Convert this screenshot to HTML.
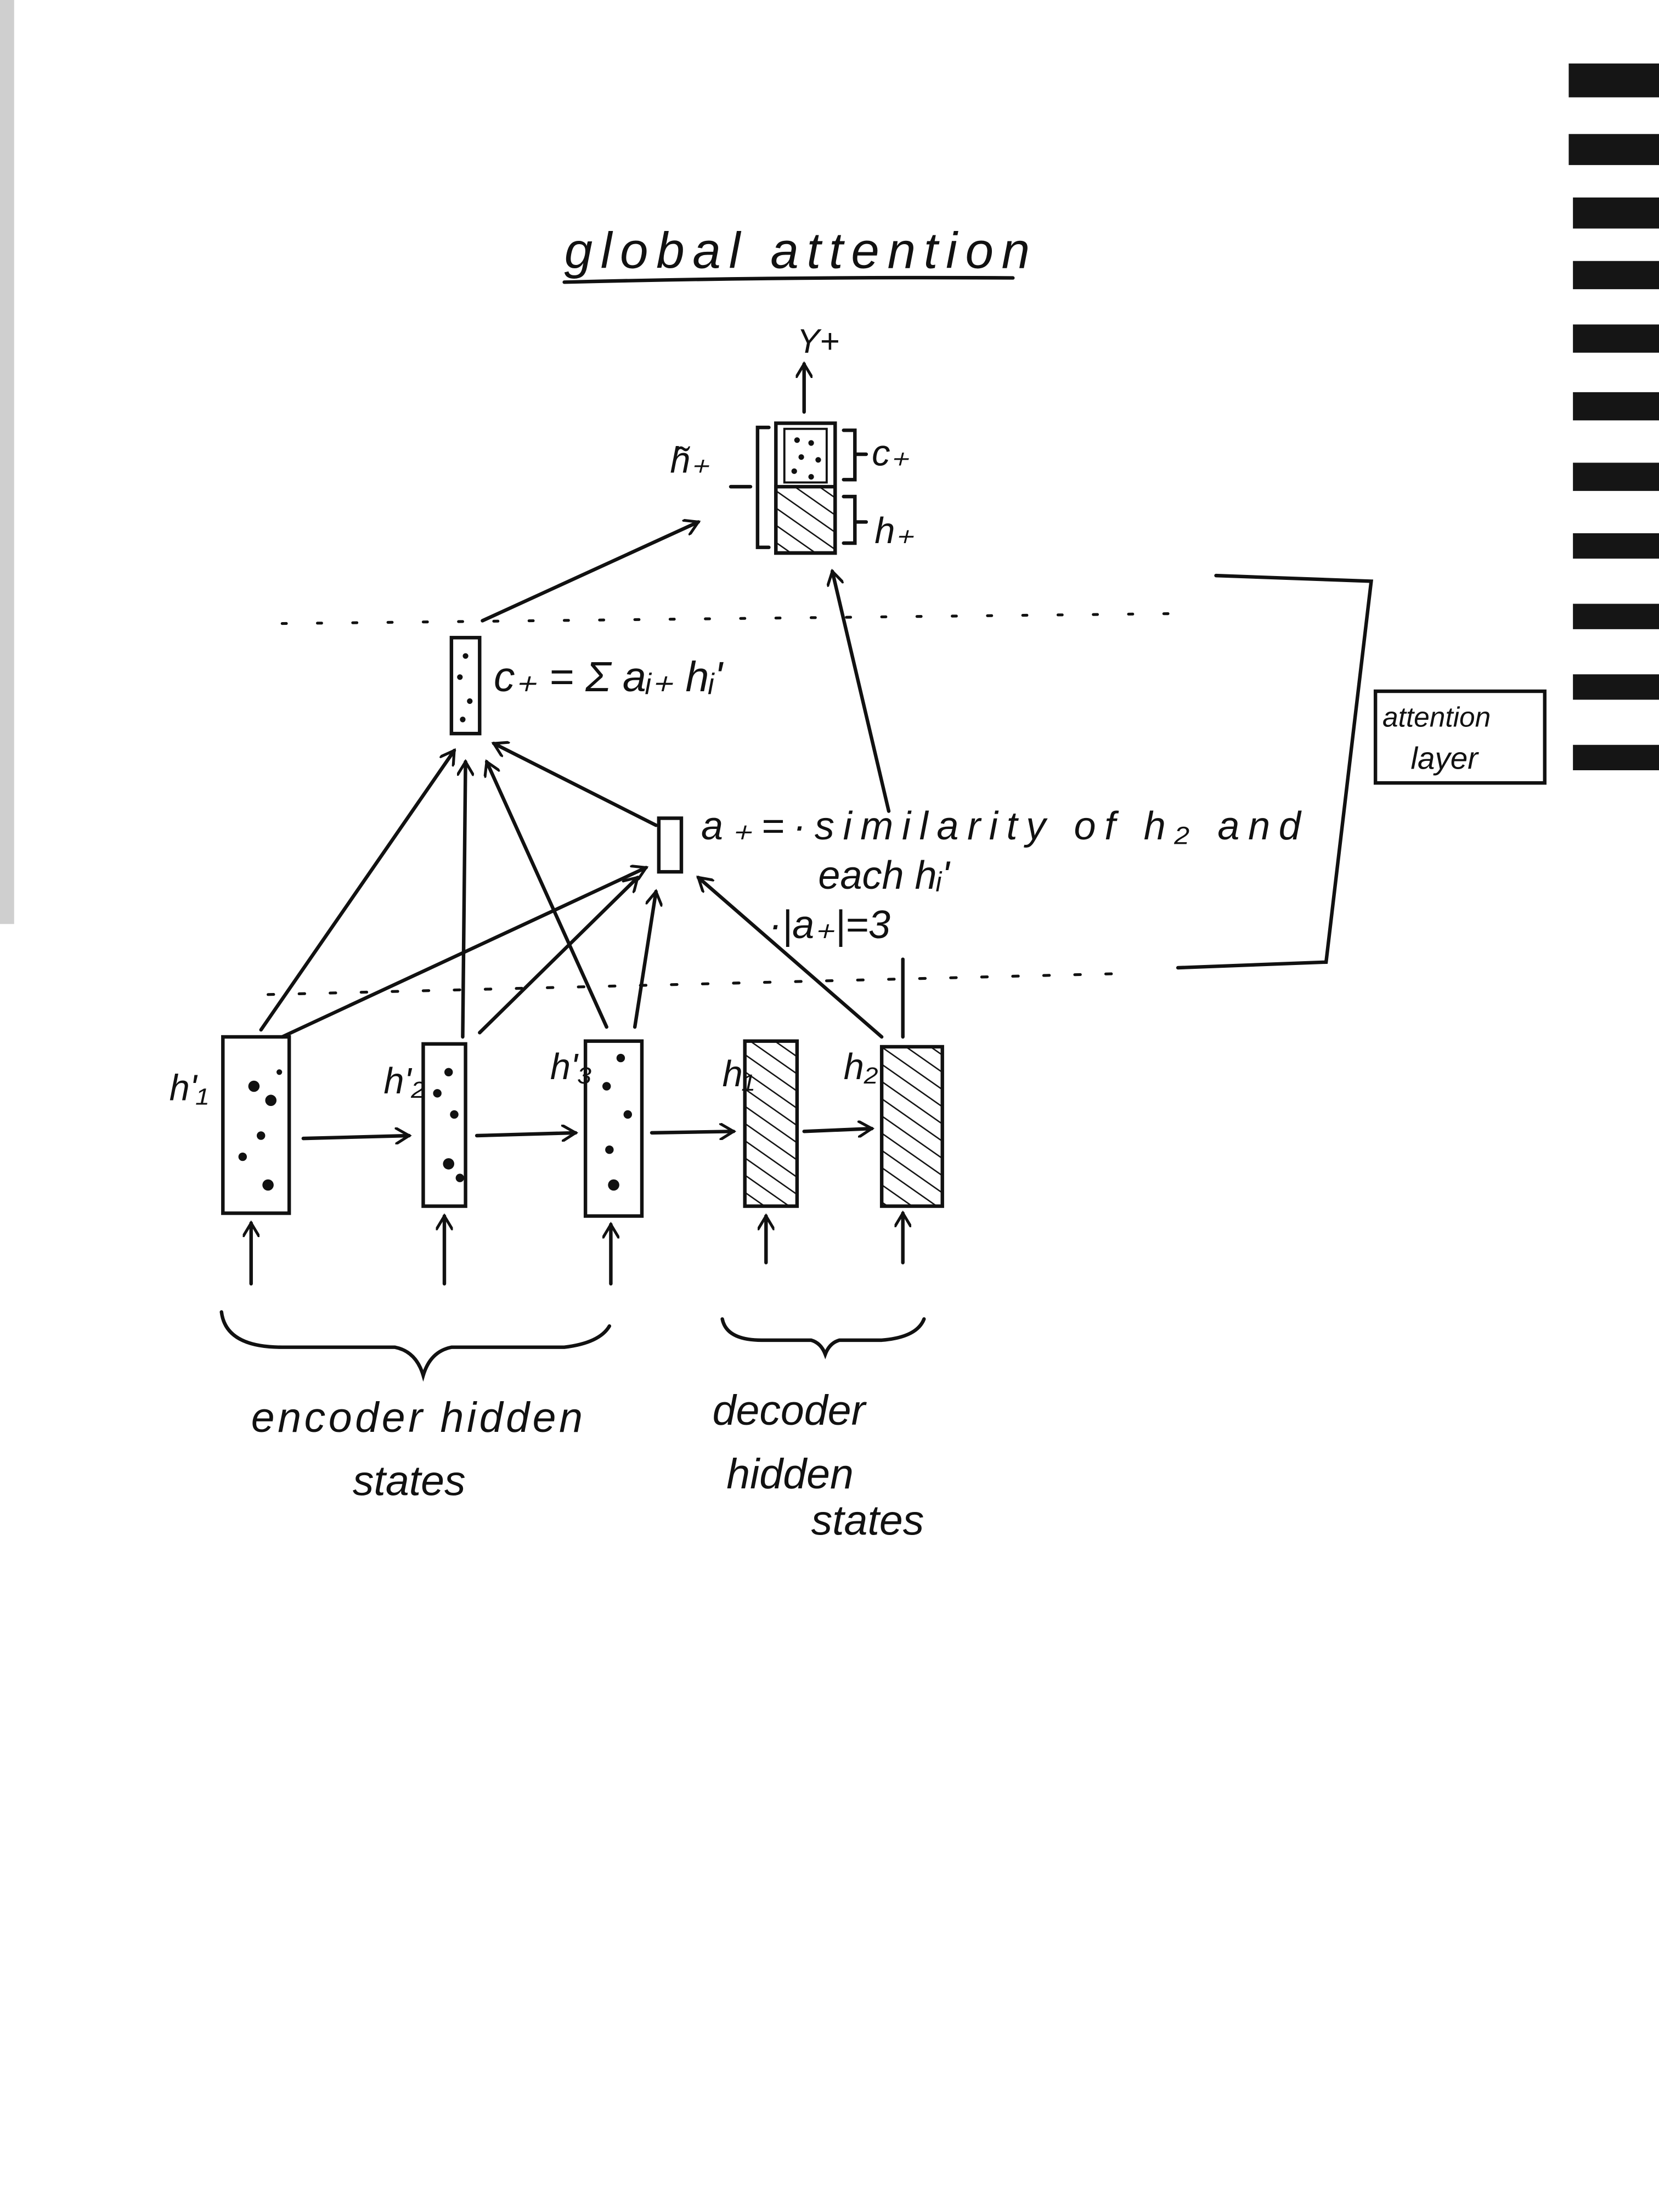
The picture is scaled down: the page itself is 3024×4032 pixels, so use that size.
<!DOCTYPE html>
<html><head><meta charset="utf-8">
<style>
html,body{margin:0;padding:0;background:#fff;}
svg{display:block;}
text{font-family:"Liberation Sans",sans-serif;font-style:italic;fill:#111;}
</style></head>
<body>
<svg width="3024" height="4032" viewBox="0 0 1176 1568" xmlns="http://www.w3.org/2000/svg">
<defs>
<pattern id="hatch" width="10" height="10" patternUnits="userSpaceOnUse" patternTransform="rotate(-55)">
<line x1="0" y1="0" x2="0" y2="10" stroke="#111" stroke-width="2"/></pattern>
<marker id="ah" markerWidth="12" markerHeight="12" refX="10" refY="6" orient="auto" markerUnits="userSpaceOnUse">
<path d="M0,0 L10,6 L0,12" fill="none" stroke="#111" stroke-width="2"/></marker>
</defs>
<rect width="1176" height="1568" fill="#fff"/>
<rect x="0" y="0" width="10" height="655" fill="#cfcfcf"/>
<g fill="#151515">
<rect x="1112" y="45" width="64" height="24"/><rect x="1112" y="95" width="64" height="22"/>
<rect x="1115" y="140" width="61" height="22"/><rect x="1115" y="185" width="61" height="20"/>
<rect x="1115" y="230" width="61" height="20"/><rect x="1115" y="278" width="61" height="20"/>
<rect x="1115" y="328" width="61" height="20"/><rect x="1115" y="378" width="61" height="18"/>
<rect x="1115" y="428" width="61" height="18"/><rect x="1115" y="478" width="61" height="18"/>
<rect x="1115" y="528" width="61" height="18"/>
</g>
<g stroke="#111" stroke-width="2.5" fill="none" stroke-linecap="round">
<!-- title underline -->
<path d="M400,200 Q560,196 718,197"/>
<!-- y_t arrow -->
<line x1="570" y1="292" x2="570" y2="258" marker-end="url(#ah)"/>
<!-- h tilde box -->
<rect x="550" y="300" width="42" height="92"/>
<rect x="550" y="345" width="42" height="47" fill="url(#hatch)"/>
<rect x="556" y="304" width="30" height="38" stroke-width="1.5"/>
<path d="M545,303 L537,303 L537,388 L545,388"/>
<path d="M598,305 L606,305 L606,340 L598,340 M606,322 L614,322"/>
<path d="M598,352 L606,352 L606,385 L598,385 M606,370 L614,370"/>
<line x1="518" y1="345" x2="532" y2="345"/>
<!-- dotted layer lines -->
<line x1="200" y1="442" x2="830" y2="435" stroke-dasharray="3 22" stroke-width="2"/>
<line x1="190" y1="705" x2="800" y2="690" stroke-dasharray="4 18" stroke-width="2"/>
<!-- attention layer bracket -->
<path d="M862,408 L972,412 L940,682 L835,686"/>
<rect x="975" y="490" width="120" height="65"/>
<!-- c_t box -->
<rect x="320" y="452" width="20" height="68"/>
<line x1="342" y1="440" x2="495" y2="370" marker-end="url(#ah)"/>
<line x1="630" y1="575" x2="590" y2="405" marker-end="url(#ah)"/>
<!-- a_t box -->
<rect x="467" y="580" width="16" height="38"/>
<line x1="465" y1="585" x2="350" y2="527" marker-end="url(#ah)"/>
<!-- encoder boxes -->
<rect x="158" y="735" width="47" height="125"/>
<rect x="300" y="740" width="30" height="115"/>
<rect x="415" y="738" width="40" height="124"/>
<rect x="528" y="738" width="37" height="117" fill="url(#hatch)"/>
<rect x="625" y="742" width="43" height="113" fill="url(#hatch)"/>
<!-- horizontal arrows -->
<line x1="215" y1="807" x2="290" y2="805" marker-end="url(#ah)"/>
<line x1="338" y1="805" x2="408" y2="803" marker-end="url(#ah)"/>
<line x1="462" y1="803" x2="520" y2="802" marker-end="url(#ah)"/>
<line x1="570" y1="802" x2="618" y2="800" marker-end="url(#ah)"/>
<!-- up arrows below -->
<line x1="178" y1="910" x2="178" y2="867" marker-end="url(#ah)"/>
<line x1="315" y1="910" x2="315" y2="862" marker-end="url(#ah)"/>
<line x1="433" y1="910" x2="433" y2="868" marker-end="url(#ah)"/>
<line x1="543" y1="895" x2="543" y2="862" marker-end="url(#ah)"/>
<line x1="640" y1="895" x2="640" y2="860" marker-end="url(#ah)"/>
<!-- lines to c_t and a_t -->
<line x1="185" y1="730" x2="322" y2="532" marker-end="url(#ah)"/>
<line x1="200" y1="735" x2="458" y2="615" marker-end="url(#ah)"/>
<line x1="328" y1="735" x2="330" y2="540" marker-end="url(#ah)"/>
<line x1="340" y1="732" x2="452" y2="622" marker-end="url(#ah)"/>
<line x1="430" y1="728" x2="345" y2="540" marker-end="url(#ah)"/>
<line x1="450" y1="728" x2="465" y2="632" marker-end="url(#ah)"/>
<line x1="625" y1="735" x2="495" y2="622" marker-end="url(#ah)"/>
<line x1="640" y1="735" x2="640" y2="680"/>
<!-- braces -->
<path d="M157,930 Q160,955 200,955 L280,955 Q295,958 300,975 Q305,958 320,955 L400,955 Q425,952 432,940"/>
<path d="M512,935 Q515,950 540,950 L575,950 Q582,952 585,960 Q588,952 595,950 L625,950 Q650,948 655,935"/>
</g>
<!-- dots -->
<g fill="#111">
<circle cx="180" cy="770" r="4"/><circle cx="192" cy="780" r="4"/><circle cx="185" cy="805" r="3"/><circle cx="172" cy="820" r="3"/><circle cx="190" cy="840" r="4"/><circle cx="198" cy="760" r="2"/>
<circle cx="318" cy="760" r="3"/><circle cx="310" cy="775" r="3"/><circle cx="322" cy="790" r="3"/><circle cx="318" cy="825" r="4"/><circle cx="326" cy="835" r="3"/>
<circle cx="440" cy="750" r="3"/><circle cx="430" cy="770" r="3"/><circle cx="445" cy="790" r="3"/><circle cx="432" cy="815" r="3"/><circle cx="435" cy="840" r="4"/>
<circle cx="330" cy="465" r="2"/><circle cx="326" cy="480" r="2"/><circle cx="333" cy="497" r="2"/><circle cx="328" cy="510" r="2"/>
<circle cx="565" cy="312" r="2"/><circle cx="575" cy="314" r="2"/><circle cx="568" cy="324" r="2"/><circle cx="580" cy="326" r="2"/><circle cx="563" cy="334" r="2"/><circle cx="575" cy="338" r="2"/>
</g>
<!-- text -->
<text x="400" y="190" font-size="36" textLength="330">global   attention</text>
<text x="565" y="250" font-size="24">Y+</text>
<text x="475" y="335" font-size="26">h̃₊</text>
<text x="618" y="330" font-size="26">c₊</text>
<text x="620" y="385" font-size="26">h₊</text>
<text x="350" y="490" font-size="30">c₊ = Σ aᵢ₊ hᵢ'</text>
<text x="497" y="595" font-size="28" textLength="425">a₊=·similarity  of  h₂  and</text>
<text x="580" y="630" font-size="28">each  hᵢ'</text>
<text x="545" y="665" font-size="28">·|a₊|=3</text>
<text x="980" y="515" font-size="20">attention</text>
<text x="1000" y="545" font-size="22">layer</text>
<text x="120" y="780" font-size="26">h'₁</text>
<text x="272" y="775" font-size="26">h'₂</text>
<text x="390" y="765" font-size="26">h'₃</text>
<text x="512" y="770" font-size="26">h₁</text>
<text x="598" y="765" font-size="26">h₂</text>
<text x="178" y="1015" font-size="30" textLength="235">encoder  hidden</text>
<text x="250" y="1060" font-size="30">states</text>
<text x="505" y="1010" font-size="30">decoder</text>
<text x="515" y="1055" font-size="30">hidden</text>
<text x="575" y="1088" font-size="30">states</text>
</svg>
</body></html>
